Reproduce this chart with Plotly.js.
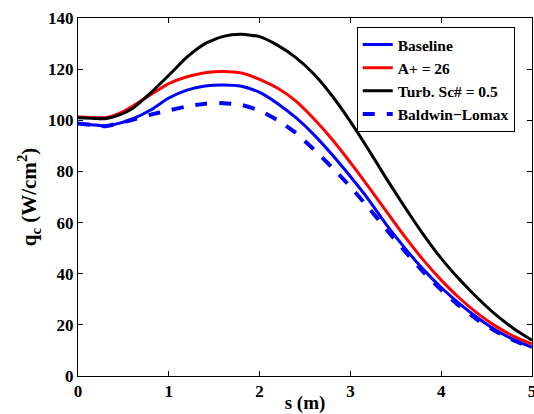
<!DOCTYPE html>
<html>
<head>
<meta charset="utf-8">
<script src="https://cdn.plot.ly/plotly-3.0.1.min.js"></script>
<style>html,body{margin:0;padding:0;background:#fff;}#chart{width:534px;height:414px;}</style>
</head>
<body>
<div id="chart"></div>
<script>
const s = [0, 0.15, 0.3, 0.45, 0.6, 0.8, 1.0, 1.2, 1.4, 1.6, 1.8, 2.0, 2.2, 2.4, 2.6, 2.8, 3.0, 3.2, 3.4, 3.6, 3.8, 4.0, 4.2, 4.4, 4.6, 4.8, 5.0];
const baseline = [98.7, 98.3, 97.8, 98.8, 100.5, 104, 108.7, 111.8, 113.4, 113.8, 113.3, 110.9, 106.5, 101, 94.3, 86.5, 78, 69, 59, 50, 41.8, 34.6, 28.3, 22.8, 18, 14.2, 11.2];
const aPlus26 = [101.3, 101.1, 101, 102.6, 105.5, 110, 114.3, 117, 118.6, 119.1, 118.5, 116, 112.5, 107.5, 100.5, 92.5, 83.5, 74, 64.2, 54.5, 45.5, 37.5, 30.5, 24.5, 19.5, 15.5, 12.5];
const turbSc05 = [101, 100.8, 100.6, 102, 104.6, 110.7, 117.6, 124.7, 130, 132.8, 133.6, 132.7, 129.3, 124.5, 118, 109.5, 99.5, 88.5, 77, 66, 55.5, 46, 37.8, 30.5, 24, 18.5, 14];
const baldwinLomax = [98.7, 98.2, 97.7, 98.8, 100.2, 102.2, 103.9, 105.4, 106.5, 106.7, 106, 103.8, 100, 95, 88.5, 81.5, 74, 65.8, 57.2, 48.8, 40.8, 33.7, 27.4, 22, 17.5, 13.9, 11];
const names = ["Baseline", "A+ = 26", "Turb. Sc# = 0.5", "Baldwin\u2212Lomax"];
const xTicks = [0, 1, 2, 3, 4, 5];
const yTicks = [0, 20, 40, 60, 80, 100, 120, 140];

const fontFam = '"Liberation Serif", "Times New Roman", Times, serif';
const traces = [
  {x: s, y: baseline, name: names[0], mode: "lines", line: {color: "#0000ff", width: 3, shape: "spline", smoothing: 0.6}},
  {x: s, y: aPlus26, name: names[1], mode: "lines", line: {color: "#ff0000", width: 3, shape: "spline", smoothing: 0.6}},
  {x: s, y: turbSc05, name: names[2], mode: "lines", line: {color: "#000000", width: 3, shape: "spline", smoothing: 0.6}},
  {x: s, y: baldwinLomax, name: names[3], mode: "lines", line: {color: "#0000ff", width: 4, dash: "dash", shape: "spline", smoothing: 0.6}}
];
const axisCommon = {
  showgrid: false, zeroline: false, showline: true, linecolor: "#000", linewidth: 1,
  mirror: "ticks", ticks: "inside", ticklen: 5, tickcolor: "#000",
  ticklabeloverflow: "allow",
  tickfont: {family: fontFam, size: 17, color: "#000", weight: "bold"}
};
const layout = {
  width: 534, height: 414,
  margin: {l: 78, r: 2, t: 18, b: 38},
  paper_bgcolor: "#fff", plot_bgcolor: "#fff",
  showlegend: true,
  legend: {x: 0.614, y: 0.975, xanchor: "left", yanchor: "top",
    bgcolor: "#fff", bordercolor: "#000", borderwidth: 1,
    font: {family: fontFam, size: 15.5, color: "#000", weight: "bold"},
    tracegroupgap: 0, itemwidth: 30},
  xaxis: Object.assign({}, axisCommon, {range: [0, 5], tickvals: xTicks, ticktext: xTicks.map(String),
    title: {text: "s (m)", standoff: 2, font: {family: fontFam, size: 19, color: "#000", weight: "bold"}}}),
  yaxis: Object.assign({}, axisCommon, {range: [0, 140], tickvals: yTicks, ticktext: yTicks.map(String),
    title: {text: "q<sub>c</sub> (W/cm<sup>2</sup>)", standoff: 5, font: {family: fontFam, size: 21, color: "#000", weight: "bold"}}})
};
Plotly.newPlot("chart", traces, layout, {displayModeBar: false, staticPlot: true});
</script>
</body>
</html>
